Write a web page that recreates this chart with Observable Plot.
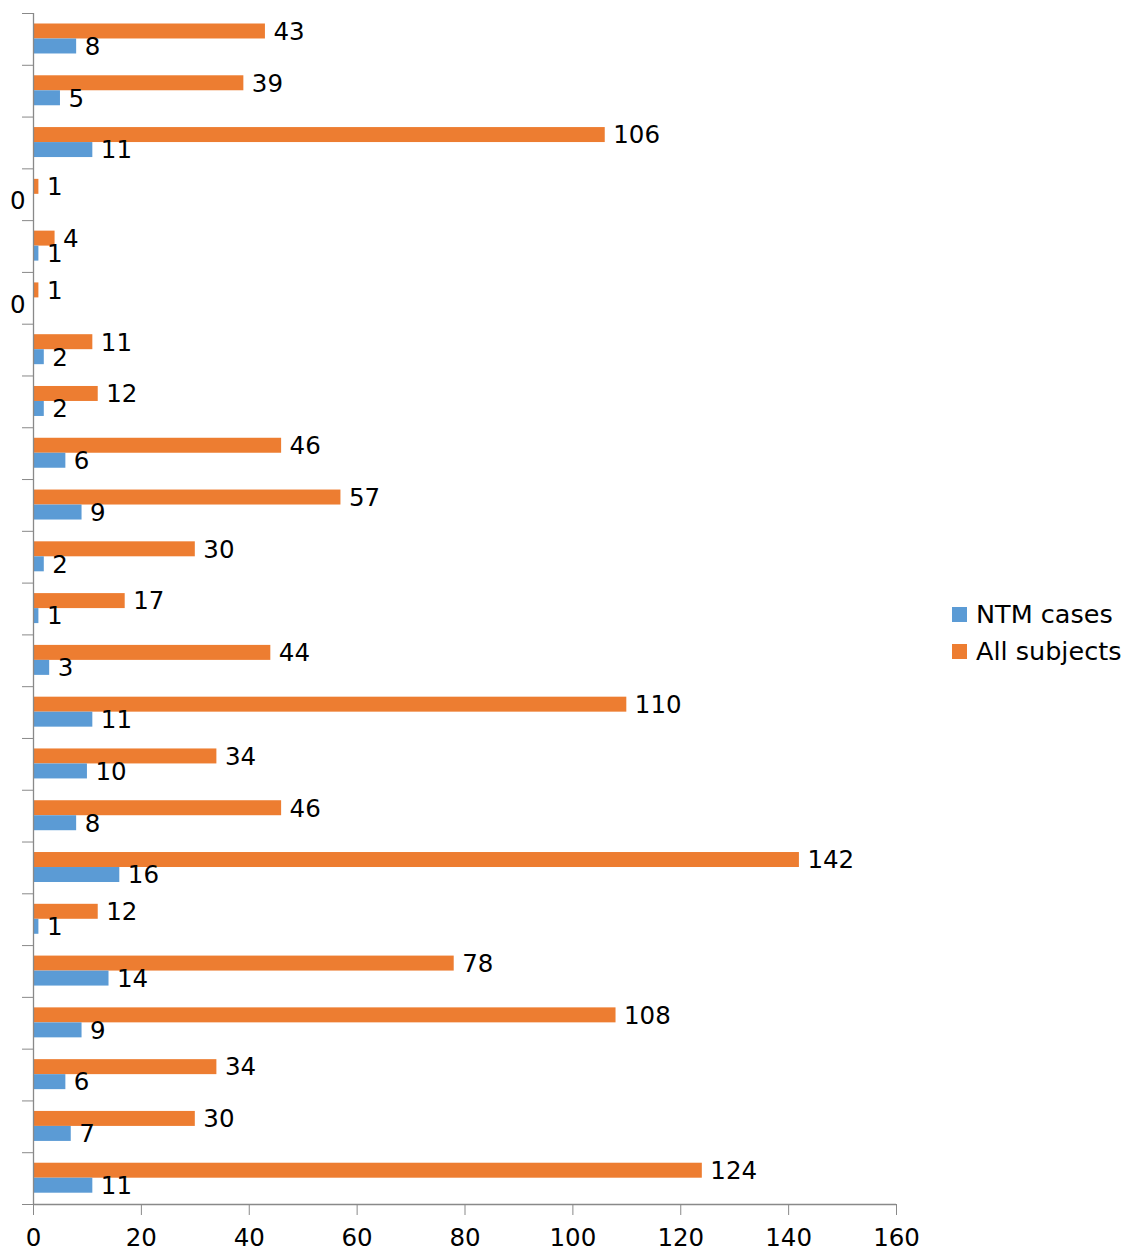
<!DOCTYPE html>
<html><head><meta charset="utf-8">
<script src="https://cdn.jsdelivr.net/npm/d3@7"></script>
<script src="https://cdn.jsdelivr.net/npm/@observablehq/plot@0.6"></script>
<style>
html,body{margin:0;padding:0;background:#fff;}
#wrap{position:relative;width:1138px;height:1255px;font-family:"DejaVu Sans",sans-serif;}
#wrap svg{display:block;}
.legend{position:absolute;left:952px;top:596px;font-size:25.5px;color:#000;line-height:37px;}
.item{display:flex;align-items:center;height:37px;white-space:nowrap;}
.sw{width:15px;height:15px;margin-right:9px;flex:none;}
</style></head><body><div id="wrap"></div>
<script>
// categories, top to bottom (the chart shows no category labels)
const categories = ["1","2","3","4","5","6","7","8","9","10","11","12","13","14","15","16","17","18","19","20","21","22","23"];
const ntmCases    = [8, 5, 11, 0, 1, 0, 2, 2, 6, 9, 2, 1, 3, 11, 10, 8, 16, 1, 14, 9, 6, 7, 11];
const allSubjects = [43, 39, 106, 1, 4, 1, 11, 12, 46, 57, 30, 17, 44, 110, 34, 46, 142, 12, 78, 108, 34, 30, 124];
const seriesNames = ["NTM cases", "All subjects"];
const seriesColors = ["#5B9BD5", "#ED7D31"];
const xTicks = [0, 20, 40, 60, 80, 100, 120, 140, 160];

const rows = categories.map((c, i) => ({i, c, ntm: ntmCases[i], all: allSubjects[i]}));
const boundaries = [0, ...categories.map((_, i) => i + 1)];
const axisColor = "#898989";
const fs = 24.5;

const chart = Plot.plot({
  width: 1138, height: 1255,
  marginLeft: 33, marginTop: 13, marginRight: 242, marginBottom: 51,
  style: {fontFamily: "DejaVu Sans, sans-serif", fontSize: fs + "px", color: "#000", background: "#fff", overflow: "visible"},
  x: {domain: [0, 160], label: null},
  y: {domain: [0, categories.length], reverse: true, label: null},
  marks: [
    Plot.rectX(rows, {x1: 0, x2: "all", y1: "i", y2: d => d.i + 1, fill: seriesColors[1], insetTop: 10.5, insetBottom: 26.3}),
    Plot.rectX(rows, {x1: 0, x2: "ntm", y1: "i", y2: d => d.i + 1, fill: seriesColors[0], insetTop: 25.5, insetBottom: 11.3}),
    Plot.text(rows, {x: "all", y: "i", text: d => String(d.all), textAnchor: "start", dx: 8, dy: 18.5, fontSize: fs, fill: "#000"}),
    Plot.text(rows.filter(d => d.ntm > 0), {x: "ntm", y: "i", text: d => String(d.ntm), textAnchor: "start", dx: 8, dy: 33.5, fontSize: fs, fill: "#000"}),
    Plot.text(rows.filter(d => d.ntm === 0), {x: "ntm", y: "i", text: d => String(d.ntm), textAnchor: "end", dx: -8, dy: 32.5, fontSize: fs, fill: "#000"}),
    Plot.ruleX([0], {stroke: axisColor, strokeWidth: 1.3}),
    Plot.ruleY([categories.length], {stroke: axisColor, strokeWidth: 1.3}),
    Plot.axisY({ticks: boundaries, tickSize: 11, tickFormat: () => "", stroke: axisColor, label: null}),
    Plot.axisX({ticks: xTicks, tickSize: 11, tickPadding: 13, fontSize: fs, stroke: axisColor, fill: "#000", label: null})
  ]
});
const wrap = document.getElementById("wrap");
wrap.appendChild(chart);

const legend = document.createElement("div");
legend.className = "legend";
seriesNames.forEach((name, k) => {
  const item = document.createElement("div");
  item.className = "item";
  const sw = document.createElement("span");
  sw.className = "sw";
  sw.style.background = seriesColors[k];
  const t = document.createElement("span");
  t.textContent = name;
  item.appendChild(sw); item.appendChild(t);
  legend.appendChild(item);
});
wrap.appendChild(legend);
</script></body></html>
